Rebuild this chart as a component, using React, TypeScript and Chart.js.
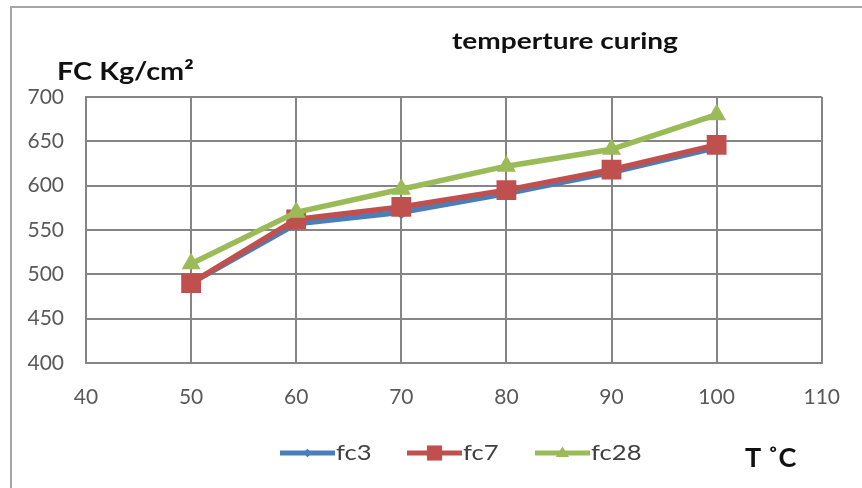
import React, { useEffect, useRef } from "react";
import { Chart, registerables } from "chart.js";

Chart.register(...registerables);

// Curing temperature (°C) and compressive strength (kg/cm²) at 3, 7 and 28 days
const temperatures = [50, 60, 70, 80, 90, 100];
const fc3 = [490, 557, 570, 591, 615, 643];
const fc7 = [490, 562, 576, 595, 618, 646];
const fc28 = [512, 570, 596, 622, 641, 680];

const seriesNames = ["fc3", "fc7", "fc28"];
const seriesColors = ["#4A7EBB", "#C0504D", "#9BBB59"];
const markerStyles = ["rectRot", "rect", "triangle"] as const;
const markerRadii = [7, 14, 11];

const chartTitle = "temperture curing";
const yTitle = "FC Kg/cm\u00B2";
const xTitle = "T \u02DAC";

const FONT = "Lato, 'Open Sans', sans-serif";
const GRID = "#858585";

// text drawn slightly widened, like the rest of the figure's lettering
function wideText(ctx: CanvasRenderingContext2D, text: string, x: number, y: number, sx: number) {
  ctx.save();
  ctx.translate(x, y);
  ctx.scale(sx, 1);
  ctx.fillText(text, 0, 0);
  ctx.restore();
}

const decorations = {
  id: "decorations",
  afterDraw(chart: Chart) {
    const ctx = chart.ctx;
    ctx.save();

    // outer frame of the chart object
    ctx.strokeStyle = "#a6a6a6";
    ctx.lineWidth = 2;
    ctx.beginPath();
    ctx.moveTo(11, 488);
    ctx.lineTo(11, 7);
    ctx.lineTo(862, 7);
    ctx.stroke();

    // chart title
    ctx.fillStyle = "#111";
    ctx.textBaseline = "middle";
    ctx.textAlign = "left";
    ctx.font = `bold 23px ${FONT}`;
    wideText(ctx, chartTitle, 452, 42, 1.22);

    // value axis title
    ctx.font = `bold 24px ${FONT}`;
    wideText(ctx, yTitle, 57, 72, 1.2);

    // category axis title
    ctx.font = `bold 27px ${FONT}`;
    wideText(ctx, xTitle, 745, 458, 1.0);

    // legend: line with marker, then label
    const legendX = [280, 407, 535];
    const legendY = 453;
    ctx.font = `21px ${FONT}`;
    chart.data.datasets.forEach((ds: any, i: number) => {
      const x0 = legendX[i];
      const lineLen = 55;
      ctx.strokeStyle = ds.borderColor;
      ctx.lineWidth = 5;
      ctx.beginPath();
      ctx.moveTo(x0, legendY);
      ctx.lineTo(x0 + lineLen, legendY);
      ctx.stroke();
      ctx.fillStyle = ds.borderColor;
      const r = markerRadii[i] * 0.6;
      ctx.beginPath();
      const cx = x0 + lineLen / 2;
      if (markerStyles[i] === "rect") {
        ctx.fillRect(cx - r * 0.9, legendY - r * 0.9, r * 1.8, r * 1.8);
      } else if (markerStyles[i] === "rectRot") {
        ctx.moveTo(cx, legendY - r);
        ctx.lineTo(cx + r, legendY);
        ctx.lineTo(cx, legendY + r);
        ctx.lineTo(cx - r, legendY);
        ctx.closePath();
        ctx.fill();
      } else {
        ctx.moveTo(cx, legendY - r);
        ctx.lineTo(cx + r, legendY + r * 0.6);
        ctx.lineTo(cx - r, legendY + r * 0.6);
        ctx.closePath();
        ctx.fill();
      }
      ctx.fillStyle = "#404040";
      wideText(ctx, ds.label, x0 + lineLen + 1, legendY, 1.22);
    });

    ctx.restore();
  },
};

export default function App() {
  const canvasRef = useRef<HTMLCanvasElement>(null);

  useEffect(() => {
    if (!canvasRef.current) return;
    const seriesValues = [fc3, fc7, fc28];
    const chart = new Chart(canvasRef.current, {
      type: "line",
      data: {
        datasets: seriesValues.map((vals, i) => ({
          label: seriesNames[i],
          data: temperatures.map((t, j) => ({ x: t, y: vals[j] })),
          borderColor: seriesColors[i],
          backgroundColor: seriesColors[i],
          borderWidth: 5.5,
          pointStyle: markerStyles[i],
          pointRadius: markerRadii[i],
          pointBorderWidth: 0,
          tension: 0,
          order: 2 - i,
        })),
      },
      options: {
        animation: false,
        responsive: false,
        maintainAspectRatio: false,
        layout: { padding: { top: 97, right: 39, left: 0, bottom: 0 } },
        plugins: {
          legend: { display: false },
          title: { display: false },
          tooltip: { enabled: false },
        },
        scales: {
          x: {
            type: "linear",
            min: 40,
            max: 110,
            ticks: {
              stepSize: 10,
              padding: 22,
              color: "#595959",
              font: { family: FONT, size: 21 },
            },
            grid: { color: GRID, lineWidth: 2, drawTicks: false },
            border: { color: GRID, width: 2 },
            afterFit(scale: any) {
              scale.height = 125;
            },
          },
          y: {
            min: 400,
            max: 700,
            ticks: {
              stepSize: 50,
              padding: 22,
              color: "#595959",
              font: { family: FONT, size: 21 },
            },
            grid: { color: GRID, lineWidth: 2, drawTicks: false },
            border: { color: GRID, width: 2 },
            afterFit(scale: any) {
              scale.width = 86;
            },
          },
        },
      },
      plugins: [decorations],
    });
    return () => chart.destroy();
  }, []);

  return (
    <div style={{ position: "fixed", left: 0, top: 0, width: 862, height: 488, background: "#fff" }}>
      <canvas ref={canvasRef} width={862} height={488} style={{ display: "block" }} />
    </div>
  );
}
